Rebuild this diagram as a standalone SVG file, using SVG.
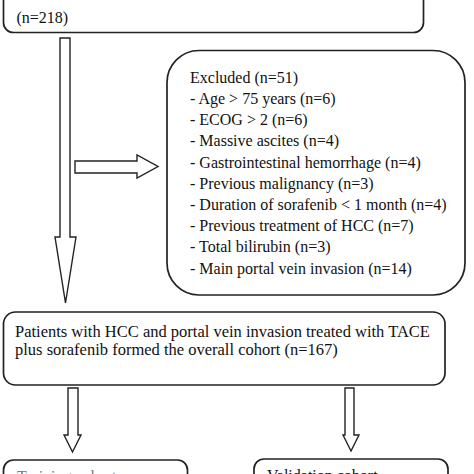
<svg xmlns="http://www.w3.org/2000/svg" width="474" height="474" viewBox="0 0 474 474">
<style>
.box{fill:#fff;stroke:#222;stroke-width:1.7}
.arr{fill:#fff;stroke:#222;stroke-width:1.4;stroke-linejoin:miter}
text{font-family:"Liberation Serif","Times New Roman",serif;font-size:16px;fill:#111}
.big{font-size:16.5px}
</style>
<rect width="474" height="474" fill="#fff"/>
<g id="node-screened">
<rect class="box" x="3.5" y="-20" width="420" height="52.5" rx="10"/>
<text x="16.5" y="23">(n=218)</text>
</g>
<g id="node-excluded">
<rect class="box" x="167" y="50.5" width="298" height="244.5" rx="32"/>
<text x="190" y="82.7">Excluded (n=51)</text>
<text x="190" y="103.9">- Age &gt; 75 years (n=6)</text>
<text x="190" y="125.1">- ECOG &gt; 2 (n=6)</text>
<text x="190" y="146.3">- Massive ascites (n=4)</text>
<text x="190" y="167.5">- Gastrointestinal hemorrhage (n=4)</text>
<text x="190" y="188.7">- Previous malignancy (n=3)</text>
<text x="190" y="209.9">- Duration of sorafenib &lt; 1 month (n=4)</text>
<text x="190" y="231.1">- Previous treatment of HCC (n=7)</text>
<text x="190" y="252.3">- Total bilirubin (n=3)</text>
<text x="190" y="273.5">- Main portal vein invasion (n=14)</text>
</g>
<g id="node-cohort">
<rect class="box" x="3.5" y="312" width="441.5" height="73" rx="12"/>
<text class="big" x="15" y="336.8">Patients with HCC and portal vein invasion treated with TACE</text>
<text class="big" x="15" y="355.3">plus sorafenib formed the overall cohort (n=167)</text>
</g>
<g id="node-training">
<rect class="box" x="3.5" y="460" width="184" height="40" rx="10"/>
<text x="17" y="482" style="fill:#777">Training cohort</text>
</g>
<g id="node-validation">
<rect class="box" x="254" y="459" width="194" height="40" rx="10"/>
<text x="267" y="481">Validation cohort</text>
</g>
<g id="connectors">
<polygon class="arr" points="60,38 70,38 70,237 76,237 65.5,303 55,237 60,237"/>
<polygon class="arr" points="75,161 137,161 137,155 158,166.5 137,178 137,173 75,173"/>
<polygon class="arr" points="68,388 78,388 78,435 81,435 72.5,452 64,435 68,435"/>
<polygon class="arr" points="345,388 354,388 354,435 359,435 351,451 343,435 345,435"/>
</g>
</svg>
